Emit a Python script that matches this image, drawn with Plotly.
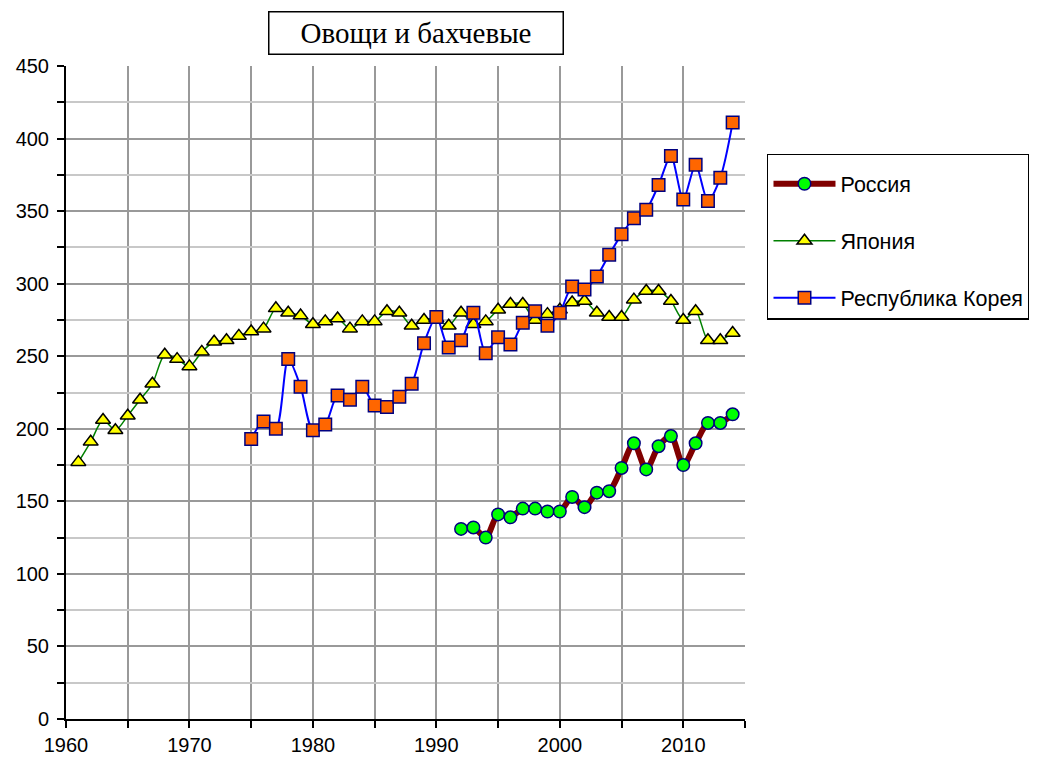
import plotly.graph_objects as go

# years
years_ru = list(range(1992, 2015))
years_jp = list(range(1961, 2015))
years_kr = list(range(1975, 2015))

# values, kg per person per year
russia = [131, 132, 125, 141, 139, 145, 145, 143, 143, 153, 146, 156, 157,
          173, 190, 172, 188, 195, 175, 190, 204, 204, 210]
japan = [177, 191, 206, 199, 209, 220, 231, 251, 248, 243, 253, 260, 261, 264,
         267, 269, 283, 280, 278, 272, 274, 276, 269, 274, 274, 281, 280, 271,
         275, 276, 271, 280, 272, 274, 282, 286, 286, 275, 279, 282, 287, 288,
         280, 277, 277, 289, 295, 295, 288, 275, 281, 261, 261, 266]
korea = [193, 205, 200, 248, 229, 199, 203, 223, 220, 229, 216, 215, 222, 231,
         259, 277, 256, 261, 280, 252, 263, 258, 273, 281, 271, 280, 298, 296,
         305, 320, 334, 345, 351, 368, 388, 358, 382, 357, 373, 411]

title_text = "Овощи и бахчевые"
x_ticks = [1960, 1970, 1980, 1990, 2000, 2010]

fig = go.Figure()
fig.add_trace(go.Scatter(
    x=years_ru, y=russia, name="Россия", mode="lines+markers",
    line=dict(color="#800000", width=6, shape="spline", smoothing=0.8),
    marker=dict(symbol="circle", size=12.5, color="#00ff00",
                line=dict(color="#000080", width=1.5)),
    legendgroup="ru",
))
fig.add_trace(go.Scatter(
    x=years_jp, y=japan, name="Япония", mode="lines+markers",
    line=dict(color="#008000", width=1.5, shape="spline", smoothing=0.8),
    marker=dict(symbol="triangle-up", size=13, color="#ffff00",
                line=dict(color="#000000", width=1.5)),
    legendgroup="jp",
))
fig.add_trace(go.Scatter(
    x=years_kr, y=korea, name="Республика Корея", mode="lines+markers",
    line=dict(color="#0000ff", width=2, shape="spline", smoothing=0.8),
    marker=dict(symbol="square", size=12.5, color="#ff6600",
                line=dict(color="#000080", width=1.5)),
    legendgroup="kr",
))

fig.add_annotation(
    text=title_text, xref="paper", yref="paper", x=0.516, y=1.05,
    xanchor="center", yanchor="middle", showarrow=False,
    width=293, height=41, borderpad=0,
    bordercolor="#000000", borderwidth=1.5, bgcolor="#ffffff",
    font=dict(family="Liberation Serif, Times New Roman, serif", size=29, color="#000000"),
)

fig.update_xaxes(
    range=[1960, 2015], tickvals=x_ticks, showline=True, linecolor="#000000", linewidth=2,
    ticks="outside", ticklen=7, tickcolor="#000000", tickwidth=1.5,
    showgrid=True, gridcolor="#999999", gridwidth=1.5, zeroline=False,
    minor=dict(dtick=5, tick0=1960, ticks="outside", ticklen=7, tickcolor="#000000",
               showgrid=True, gridcolor="#999999", gridwidth=1.5),
    tickfont=dict(size=20), automargin=False,
)
fig.update_yaxes(
    range=[0, 450], dtick=50, showline=True, linecolor="#000000", linewidth=2,
    ticks="outside", ticklen=7, tickcolor="#000000", tickwidth=1.5,
    showgrid=True, gridcolor="#999999", gridwidth=1.5, zeroline=False,
    minor=dict(dtick=25, ticks="outside", ticklen=7, tickcolor="#000000",
               showgrid=True, gridcolor="#c8c8c8", gridwidth=1.5),
    tickfont=dict(size=20), automargin=False, ticklabelstandoff=4,
)

# the page adds an 8px body margin, so the figure is 8px smaller than the window
fig.update_layout(
    width=1029, height=752,
    margin=dict(l=58, r=292, t=58, b=41),
    plot_bgcolor="#ffffff", paper_bgcolor="#ffffff",
    font=dict(family="Liberation Sans, Arial, sans-serif", size=20, color="#000000"),
    legend=dict(
        xref="container", yref="container",
        x=0.7376, y=0.8059, xanchor="left", yanchor="top",
        bordercolor="#000000", borderwidth=1.5, bgcolor="#ffffff",
        tracegroupgap=26, font=dict(size=21.5), itemwidth=62,
        title=dict(text="\u00a0", font=dict(size=6)),
    ),
)

fig.write_html("out.html")
